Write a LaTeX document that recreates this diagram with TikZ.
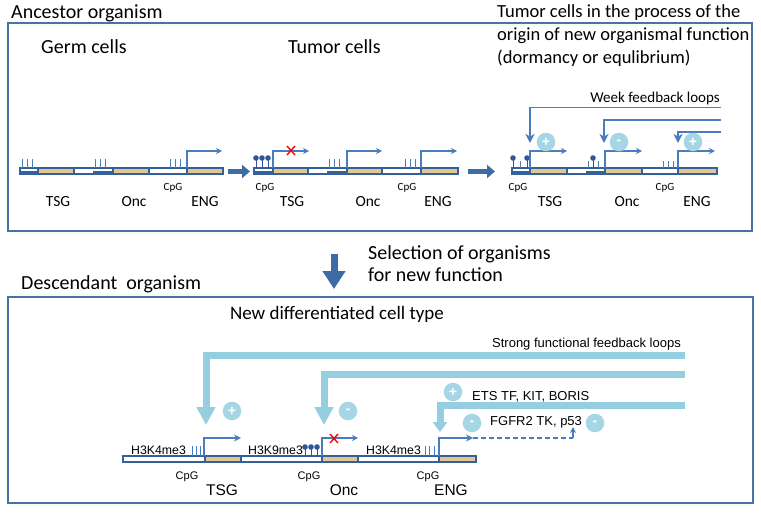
\documentclass[tikz,border=0pt]{standalone}
\usepackage{fontspec}
\setmainfont{Carlito}
\newfontfamily\arialf{Liberation Sans}
\usetikzlibrary{arrows.meta}
\definecolor{boxblue}{HTML}{4A72A8}
\definecolor{barblue}{HTML}{34609C}
\definecolor{tanc}{HTML}{E3C78F}
\definecolor{probl}{HTML}{4A7DBF}
\definecolor{arrblue}{HTML}{3E6AA6}
\definecolor{lbl}{HTML}{95CEDF}
\definecolor{lcirc}{HTML}{A6D6E6}
\definecolor{lolli}{HTML}{2F5597}
\begin{document}
\begin{tikzpicture}[x=1pt,y=-1pt,
  heading/.style={font=\fontsize{20}{24}\selectfont, inner sep=0pt, anchor=base west},
  genelab/.style={font=\fontsize{15.5}{18}\selectfont, inner sep=0pt, anchor=base},
  cpglab/.style={font=\fontsize{11}{13}\selectfont, inner sep=0pt, anchor=base},
  alab/.style={font=\arialf\fontsize{13}{15}\selectfont, inner sep=0pt},
  hlab/.style={font=\arialf\fontsize{12.3}{14}\selectfont, inner sep=0pt, anchor=base west},
  agenelab/.style={font=\arialf\fontsize{15.5}{18}\selectfont, inner sep=0pt, anchor=base},
  acpglab/.style={font=\arialf\fontsize{11}{13}\selectfont, inner sep=0pt, anchor=base},
  frame/.style={draw=boxblue, line width=1.2pt},
  dna/.style={draw=barblue, fill=white, line width=1.3pt},
  genebody/.style={draw=barblue, fill=tanc, line width=1.3pt},
  cpgtick/.style={draw=probl, line width=0.9pt},
  lollistem/.style={draw=lolli, line width=0.9pt},
  prom/.style={draw=probl, line width=1.3pt, -{Stealth[length=6pt,width=6pt]}},
  promthick/.style={draw=probl, line width=2pt, -{Stealth[length=7pt,width=7pt]}},
  bigarrow/.style={draw=arrblue, line width=5pt, -{Triangle[width=13pt,length=8pt]}},
  fb/.style={draw=probl, line width=1.5pt, -{Stealth[length=9pt,width=9pt,inset=2.5pt]}},
  sign/.style={circle, fill=lcirc, minimum size=18.6pt, inner sep=0pt, text=white, font=\arialf\fontsize{14}{14}\selectfont\bfseries},
  band/.style={draw=lbl, line width=7pt},
  redx/.style={draw=red, line width=1.4pt}
]
\useasboundingbox (0,0) rectangle (761,514);

% ---------- top frame ----------
\draw[frame] (8,23) rectangle (752,231);
\node[heading] (anc) at (11,19) {Ancestor organism};
\node[heading] (germ) at (41,53) {Germ cells};
\node[heading] (tumor) at (288,53) {Tumor cells};
\node[heading, font=\fontsize{18.5}{22}\selectfont] (t1) at (497,17) {Tumor cells in the process of the};
\node[heading, font=\fontsize{18.5}{22}\selectfont] (t2) at (497,40) {origin of new organismal function};
\node[heading, font=\fontsize{18.5}{22}\selectfont] (t3) at (497,63) {(dormancy or equlibrium)};
\node[font=\fontsize{15}{18}\selectfont, inner sep=0pt, anchor=base east] (week) at (720,102) {Week feedback loops};

% ---------- group 1: germ cells ----------
\draw[dna] (20,168) rectangle (223,174);
\fill[barblue] (20,171) rectangle (38,174.6);
\fill[barblue] (93,171) rectangle (113,174.6);
\draw[genebody] (38,168) rectangle (74,174);
\draw[genebody] (113,168) rectangle (149,174);
\draw[genebody] (187,168) rectangle (223,174);
\foreach \x in {22,27,32,95,100,105,170,175,180} \draw[cpgtick] (\x,159) -- (\x,168);
\coordinate (g1p) at (187,168);
\coordinate (g1e) at (222,151);
\draw[prom] (g1p) |- (g1e);
\node[cpglab] (g1c) at (173,190) {CpG};
\node[genelab] (g1t) at (58,206) {TSG};
\node[genelab] (g1o) at (134,206) {Onc};
\node[genelab] (g1n) at (205,206) {ENG};

\coordinate (a1s) at (228,171.5);
\coordinate (a1e) at (250,171.5);
\draw[bigarrow] (a1s) -- (a1e);

% ---------- group 2: tumor cells ----------
\draw[dna] (254,168) rectangle (458,174);
\fill[barblue] (254,171) rectangle (273,174.6);
\fill[barblue] (327,171) rectangle (347,174.6);
\draw[genebody] (273,168) rectangle (308,174);
\draw[genebody] (347,168) rectangle (382,174);
\draw[genebody] (421,168) rectangle (458,174);
\foreach \x in {256,262,268} {\draw[lollistem] (\x,158) -- (\x,168); \fill[lolli] (\x,158) circle (2.8pt);}
\foreach \x in {329,334,339,405,410,415} \draw[cpgtick] (\x,159) -- (\x,168);
\draw[prom] (273,168) |- (309,151);
\draw[redx] (287,146) -- (295,155) (287,155) -- (295,146);
\draw[prom] (347,168) |- (382,151);
\draw[prom] (421,168) |- (457,151);
\node[cpglab] (g2c1) at (265,190) {CpG};
\node[cpglab] (g2c2) at (407,190) {CpG};
\node[genelab] (g2t) at (292,206) {TSG};
\node[genelab] (g2o) at (368,206) {Onc};
\node[genelab] (g2n) at (438,206) {ENG};

\coordinate (a2s) at (468,171.5);
\coordinate (a2e) at (495,171.5);
\draw[bigarrow] (a2s) -- (a2e);

% ---------- group 3: tumor cells with weak loops ----------
\draw[dna] (512,168) rectangle (717,174);
\fill[barblue] (512,171) rectangle (530,174.6);
\fill[barblue] (586,171) rectangle (605,174.6);
\draw[genebody] (530,168) rectangle (567,174);
\draw[genebody] (605,168) rectangle (642,174);
\draw[genebody] (678,168) rectangle (717,174);
\foreach \x in {513,527,593} {\draw[lollistem] (\x,158) -- (\x,168); \fill[lolli] (\x,158) circle (2.8pt);}
\foreach \x in {520,588,598,663,668,673} \draw[cpgtick] (\x,161) -- (\x,168);
\draw[prom] (530,168) |- (567,151);
\draw[prom] (605,168) |- (642,151);
\draw[prom] (678,168) |- (715,151);
\node[cpglab] (g3c1) at (518,190) {CpG};
\node[cpglab] (g3c2) at (665,190) {CpG};
\node[genelab] (g3t) at (550,206) {TSG};
\node[genelab] (g3o) at (627,206) {Onc};
\node[genelab] (g3n) at (697,206) {ENG};

\coordinate (w1) at (721,107.5);
\coordinate (w2) at (721,120);
\coordinate (w3) at (721,132);
\coordinate (w1e) at (530,143);
\coordinate (w2e) at (604,143);
\coordinate (w3e) at (678,143);
\draw[fb] (w1) -| (w1e);
\draw[fb] (w2) -| (w2e);
\draw[fb] (w3) -| (w3e);
\node[sign] (s1) at (546,142) {+};
\node[sign] (s2) at (619,142) {-};
\node[sign] (s3) at (693,142) {+};

% ---------- selection ----------
\coordinate (dsel) at (334,254);
\coordinate (dsele) at (334,289);
\draw[draw=arrblue, line width=7pt, -{Triangle[width=22pt,length=18pt]}] (dsel) -- (dsele);
\node[heading] (sel1) at (368,259) {Selection of organisms};
\node[heading] (sel2) at (368,281) {for new function};
\node[heading] (desc) at (21,289) {Descendant\ \ organism};

% ---------- bottom frame ----------
\draw[frame] (8,297) rectangle (753,503);
\node[font=\fontsize{19}{23}\selectfont, inner sep=0pt, anchor=base] (newd) at (337,319) {New differentiated cell type};
\node[alab, anchor=base east] (strong) at (681,347) {Strong functional feedback loops};

% bands
\coordinate (b1) at (685,355.5);
\coordinate (b2) at (685,374.5);
\coordinate (b3) at (685,405);
\coordinate (b1e) at (206,425);
\coordinate (b2e) at (324,425);
\coordinate (b3e) at (440,432);
\draw[band, -{Triangle[width=18pt,length=18pt]}] (b1) -| (b1e);
\draw[band, -{Triangle[width=18pt,length=18pt]}] (b2) -| (b2e);
\draw[band, -{Triangle[width=14pt,length=10pt]}] (b3) -| (b3e);

\node[alab, anchor=base west] (ets) at (472,400) {ETS TF, KIT, BORIS};
\node[alab, anchor=base west] (fgf) at (490,425) {FGFR2 TK, p53};
\node[sign] (bs1) at (232,411) {+};
\node[sign] (bs2) at (348,411) {-};
\node[sign] (bs3) at (453,392) {+};
\node[sign] (bs4) at (472,423) {-};
\node[sign] (bs5) at (595,423) {-};

% bottom DNA
\draw[dna] (123,456) rectangle (476,462);
\draw[genebody] (205,456) rectangle (241,462);
\draw[genebody] (322,456) rectangle (358,462);
\draw[genebody] (439,456) rectangle (476,462);
\node[hlab] (h1) at (131,454) {H3K4me3};
\node[hlab] (h2) at (248,454) {H3K9me3};
\node[hlab] (h3) at (366,454) {H3K4me3};
\foreach \x in {192,196,200,425,429,434} \draw[cpgtick] (\x,446) -- (\x,456);
\foreach \x in {305,311,317} {\draw[lollistem] (\x,447) -- (\x,456); \fill[lolli] (\x,447) circle (2.8pt);}
\draw[promthick] (204,456) |- (241,438);
\draw[prom] (322,456) |- (358,438);
\draw[redx] (330,434) -- (338,443) (330,443) -- (338,434);
\coordinate (ep) at (438.5,456);
\coordinate (ee) at (473,438);
\draw[promthick] (ep) |- (ee);
\coordinate (dend) at (573,438);
\coordinate (dtip) at (573,427);
\draw[draw=probl, line width=1.5pt, dash pattern=on 5pt off 3pt] (ee) -- (dend);
\draw[prom, line width=1.5pt] (dend) -- (dtip);
\node[acpglab] (c1) at (187,479) {CpG};
\node[acpglab] (c2) at (309,479) {CpG};
\node[acpglab] (c3) at (428,479) {CpG};
\node[agenelab] (bt) at (222,495) {TSG};
\node[agenelab] (bo) at (344,495) {Onc};
\node[agenelab] (bn) at (451,495) {ENG};
\end{tikzpicture}
\end{document}
